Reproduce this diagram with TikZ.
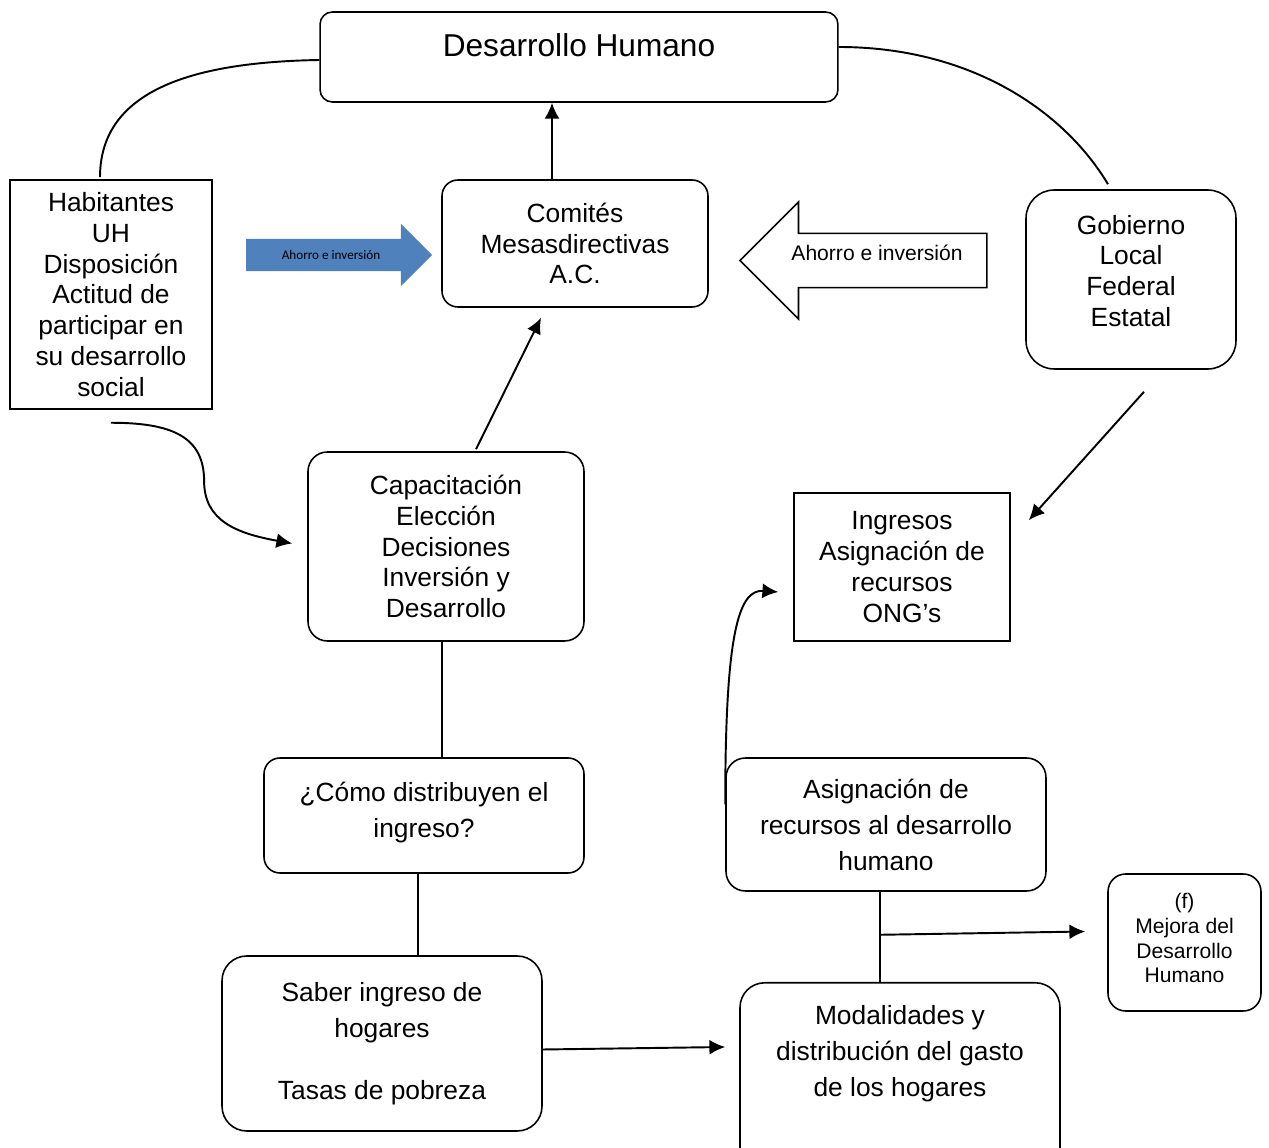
\documentclass[tikz,border=0pt]{standalone}
\usepackage{fontspec}
\setmainfont{Liberation Sans}
\newfontfamily\calibrifont{Carlito}
\usetikzlibrary{arrows.meta,positioning,calc,shapes.arrows}
\definecolor{ahorroblue}{HTML}{4F81BD}
\tikzset{
  box/.style={draw, line width=0.9pt, align=center, inner sep=3pt,
              font=\fontsize{15}{17.5}\selectfont},
  rbox/.style={box, rounded corners=9pt},
  loose/.style={font=\fontsize{15}{20.5}\selectfont},
  arrow/.style={-{Latex[length=9pt,width=8.5pt]}, line width=1.1pt},
  link/.style={line width=1.1pt},
  bigarrow/.style={single arrow, single arrow head indent=0pt, inner xsep=0pt}
}

\begin{document}
\begin{tikzpicture}[x=0.02cm, y=-0.02cm]
  \useasboundingbox (0,0) rectangle (1269,1148);
  % cajas
  \node[rbox, rounded corners=7pt, minimum width=10.36cm, minimum height=1.8cm,
        font=\fontsize{18}{21}\selectfont, text height=13pt, text depth=13pt]
    (dh) at (579,57) {Desarrollo Humano};
  \node[box, minimum width=4.04cm, minimum height=4.58cm] (hab) at (111,294.5)
    {Habitantes\\UH\\Disposición\\Actitud de\\participar en\\su desarrollo\\social};
  \node[rbox, minimum width=5.32cm, minimum height=2.54cm] (com) at (575,243.5)
    {Comités\\Mesasdirectivas\\A.C.};
  \node[rbox, rounded corners=16pt, minimum width=4.2cm, minimum height=3.58cm]
    (gob) at (1131,279.5) {Gobierno\\Local\\Federal\\Estatal\\[-7.5pt]\mbox{}};
  \node[rbox, rounded corners=11pt, minimum width=5.52cm, minimum height=3.78cm]
    (cap) at (446,546.5) {Capacitación\\Elección\\Decisiones\\Inversión y\\Desarrollo};
  \node[box, minimum width=4.32cm, minimum height=2.96cm] (ing) at (902,567)
    {Ingresos\\Asignación de\\recursos\\ONG’s};
  \node[rbox, loose, minimum width=6.4cm, minimum height=2.3cm] (como) at (424,815.5)
    {¿Cómo distribuyen el\\ingreso?\\[-13.5pt]\mbox{}};
  \node[rbox, loose, rounded corners=11pt, minimum width=6.4cm, minimum height=2.66cm]
    (asig) at (886,824.5) {Asignación de\\recursos al desarrollo\\humano};
  \node[rbox, rounded corners=10pt, font=\fontsize{12}{14}\selectfont,
        minimum width=3.06cm, minimum height=2.74cm] (mej) at (1184.5,942.5)
    {(f)\\Mejora del\\Desarrollo\\Humano\\[-9pt]\mbox{}};
  \node[rbox, loose, rounded corners=14pt, minimum width=6.4cm, minimum height=3.5cm]
    (sab) at (382,1043.5) {Saber ingreso de\\hogares\\[15pt]Tasas de pobreza};
  \node[rbox, loose, rounded corners=14pt, anchor=north, minimum width=6.4cm,
        inner ysep=13pt] (mod) at (900,982)
    {Modalidades y\\distribución del gasto\\de los hogares\\[30pt]\mbox{}};
  % flechas anchas
  \node[bigarrow, fill=ahorroblue, minimum height=3.72cm, minimum width=1.24cm,
        single arrow head extend=0.3cm, inner ysep=6.3pt,
        font=\calibrifont\fontsize{7.5}{9}\selectfont]
    (ahorro1) at (331,255) {Ahorro e inversión};
  \node[bigarrow, draw, line width=0.9pt, shape border rotate=180,
        minimum height=4.94cm, minimum width=2.34cm, single arrow head extend=0.59cm,
        inner ysep=5pt, font=\fontsize{12}{14}\selectfont,
        text height=9pt, text depth=9pt]
    (ahorro2) at (877,260.5) {Ahorro e inversión};
  % conectores
  \draw[link] ($(hab.north)+(-11,-2)$) .. controls +(0,-90) and +(-120,2) .. ($(dh.west)+(0,3)$);
  \draw[link] ($(dh.east)+(0,-10)$) .. controls +(130,0) and +(-45,-75) .. ($(gob.north)+(-23,-5)$);
  \coordinate (cu) at ($(com.north)+(-23,0)$);
  \draw[arrow] (cu) -- (cu |- dh.south);
  \draw[arrow] ($(cap.north)+(30,-2)$) -- ($(com.south)+(-34,10)$);
  \draw[arrow] ($(hab.south)+(0,13)$) .. controls +(60,0) and +(0,-45)
    .. ($(hab.south)!0.5!(cap.west)+(-5,3)$) .. controls +(0,40) and +(-55,-10)
    .. ($(cap.west)+(-15,-3)$);
  \draw[arrow] ($(gob.south)+(13,22)$) -- ($(ing.north east)+(18,28)$);
  \coordinate (cb) at ($(cap.south)+(-4,0)$);
  \draw[link] (cb) -- (cb |- como.north);
  \coordinate (ob) at ($(como.south)+(-6,0)$);
  \draw[link] (ob) -- (ob |- sab.north);
  \draw[arrow] ($(sab.east)+(0,6)$) -- ($(mod.north west)+(-14,65)$);
  \coordinate (ab) at ($(asig.south)+(-6,0)$);
  \draw[link] (ab) -- (ab |- mod.north);
  \draw[arrow] ($(ab)+(0,43)$) -- ($(mej.west)+(-22,-11)$);
  \draw[arrow] ($(asig.west)+(0,-20)$) .. controls +(0,-170) and +(-40,-3)
    .. ($(ing.west)+(-15,25)$);
\end{tikzpicture}
\end{document}
